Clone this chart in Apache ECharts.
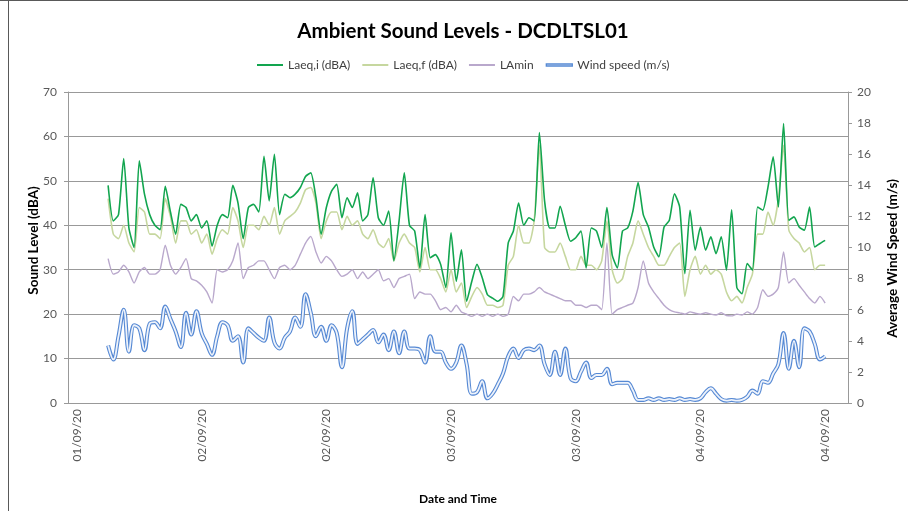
<!DOCTYPE html>
<html>
<head>
<meta charset="utf-8">
<script src="https://cdn.jsdelivr.net/npm/echarts@6/dist/echarts.min.js"></script>
<style>
  html, body { margin: 0; padding: 0; background: #ffffff; }
  #chart { width: 908px; height: 511px; }
</style>
</head>
<body>
<div id="chart"></div>
<script>
// Half-hourly ambient noise and wind readings, monitor DCDLTSL01
const START_HOUR = 21;      // hours after 01/09/20 00:00 of the first reading
const STEP_HOURS = 0.5;

const laeqI = [
  49, 41, 42.4, 55, 39.4, 35, 54.5, 47, 42.4, 40, 39, 48.8, 43, 38, 44.7, 44, 41, 42.4, 39.4, 41,
  35.3, 40, 42.4, 41.7, 49, 45, 37, 44, 44.7, 43, 55.5, 45.5, 56, 42.4, 47,
  46.2, 47, 48.5, 51, 51.8, 46.2, 38, 44, 47.7, 49.2, 41.7, 46.2, 44, 47.3, 41, 42.4, 50.7, 41.7,
  40, 43.2, 32, 41, 51.8, 40, 38.7, 30.4, 42.4, 32.7, 33.4, 31.2, 26, 38.3, 27.4, 34.5,
  22.9, 27.4, 31.2, 28.2, 24.4, 23.6, 22.9, 24, 36, 38.7, 45, 40, 41.7, 41, 60.9, 45.5, 39.4, 39.4,
  44.3, 40, 36.4, 37.2, 38.7, 30.4, 39.4, 38.7, 35, 44, 33.4, 30.4, 38.7, 39.4, 43.2, 49.6, 42.4,
  39.6, 35.1, 32.9, 39.6, 41.1, 47.1, 44.1, 29.1, 43.4, 34.4, 39.6, 34.4, 37.4, 33.6, 37.4, 29.9,
  43.5, 26, 24.6, 31.4, 29.9, 44.1, 43.4, 48.6, 55.4, 44.1, 62.9, 41.1, 41.9, 39.6, 38.9, 44.1,
  35.1, 35.9, 36.6
];

const laeqF = [
  46, 38, 37, 40, 36, 34, 44, 43, 38, 38, 37, 46, 42, 36, 41, 41, 38, 39, 36, 38,
  33.5, 37, 39, 38, 44, 41, 35, 40, 40, 39, 42, 40, 44, 38, 41,
  42, 43, 45, 48, 48.5, 45, 37, 41, 43, 43, 39, 42, 40, 41, 38, 37, 39, 36,
  35, 37, 32, 36, 38, 36, 35, 29.5, 35, 30, 30, 28, 25, 30, 25, 27,
  21.5, 24, 26, 24.5, 22, 22, 21.5, 22, 31, 33, 40, 36, 36, 41, 58, 35, 34, 34,
  36, 33, 30, 30, 33, 31, 31, 30, 32, 41, 30, 27, 28, 33, 36, 41, 38,
  35, 33, 31, 31, 33, 35, 36, 24, 30, 33, 29, 31, 29, 30, 29, 25,
  23, 24, 22.5, 26, 29, 38, 38, 43, 40, 46, 58, 39, 37, 36, 34, 35,
  30, 31, 31
];

const laMin = [
  32.5, 29, 29.5, 31, 29.5, 27, 29.5, 30.5, 29, 29, 30, 35.5, 31, 29, 30.5, 32.5, 28, 27.5, 26.5, 25,
  22.5, 30, 29.5, 30, 32, 36, 28, 30.5, 31, 32, 32, 30, 28, 30.5, 31,
  30, 31, 33.5, 36, 37.5, 34, 31.5, 33, 32, 30, 28.5, 29, 30, 28, 29.5, 28, 29, 30,
  27.5, 28, 26, 28, 28.5, 29, 23.5, 25, 24.5, 24.5, 23, 21, 21.5, 20.5, 22, 20.5,
  20, 19.5, 20, 19.5, 20, 19.5, 20, 19.5, 20, 24, 23, 24.5, 24.5, 25, 26, 25, 24.5, 24,
  23.5, 23, 23, 22, 22, 21.5, 22, 22, 21, 36, 20, 21, 21.5, 22, 22.5, 26, 32,
  27, 25, 23.5, 22, 21, 20.5, 20.3, 20, 20.5, 20.2, 20, 20.3, 20, 19.8, 20.3, 19.7,
  19.6, 20, 19.8, 20.5, 20, 21.5, 25.5, 24, 24.5, 26, 34, 27, 28, 26.5, 25, 23.5,
  22.5, 24, 22.5
];

const windSpeed = [
  3.7, 2.8, 4.3, 6.0, 3.3, 5.0, 4.8, 3.4, 5.1, 5.2, 4.8, 6.2, 5.4, 4.6, 3.6, 5.8, 4.4, 5.9, 4.5, 3.8,
  3.1, 4.3, 5.2, 5.0, 4.0, 4.3, 2.6, 4.8, 4.5, 4.2, 4.0, 5.5, 3.9, 3.5, 4.2,
  4.6, 5.5, 4.9, 7.0, 5.8, 4.3, 4.9, 4.0, 5.0, 4.5, 2.3, 4.8, 5.9, 3.8, 4.1, 4.4, 4.7, 3.9,
  4.4, 3.4, 4.6, 3.2, 4.6, 3.5, 3.5, 3.4, 2.6, 4.3, 3.3, 3.3, 2.6, 2.2, 2.6, 3.7,
  2.5, 0.6, 0.7, 1.4, 0.3, 0.6, 1.2, 1.9, 3.0, 3.5, 2.9, 3.4, 3.5, 3.4, 3.7, 2.5, 1.8, 3.3,
  1.8, 3.5, 1.6, 1.4, 2.0, 2.6, 1.6, 1.8, 1.8, 2.2, 1.2, 1.3, 1.3, 1.3, 0.8, 0.2, 0.2,
  0.3, 0.2, 0.3, 0.2, 0.25, 0.2, 0.3, 0.2, 0.25, 0.2, 0.3, 0.7, 0.95, 0.6, 0.25, 0.15,
  0.2, 0.15, 0.2, 0.4, 0.8, 0.6, 1.4, 1.3, 1.9, 2.5, 4.5, 2.2, 4.0, 2.3, 4.8, 4.6,
  3.8, 2.8, 3.0
];

// Date tick marks (hours after 01/09/20 00:00) and their labels
const tickHours = [18, 30, 42, 54, 66, 78, 90];
const tickLabels = ['01/09/20', '02/09/20', '02/09/20', '03/09/20', '03/09/20', '04/09/20', '04/09/20'];

const FONT = 'Lato, "Open Sans", sans-serif';
const GRID_GREY = '#999999';

const withTime = arr => arr.map((v, i) => [START_HOUR + i * STEP_HOURS, v]);

const chart = echarts.init(document.getElementById('chart'), null, { renderer: 'canvas' });

const option = {
  backgroundColor: '#ffffff',
  animation: false,
  textStyle: { fontFamily: FONT },
  title: {
    text: 'Ambient Sound Levels - DCDLTSL01',
    left: 458,
    textAlign: 'center',
    top: 16,
    textStyle: { fontFamily: FONT, fontWeight: 'bold', fontSize: 20.5, color: '#000000' }
  },
  legend: {
    top: 54,
    left: 252,
    itemGap: 12,
    itemWidth: 26,
    itemHeight: 2,
    textStyle: { fontFamily: FONT, fontSize: 12, color: '#404040' },
    data: [
      { name: 'Laeq,i (dBA)', icon: 'rect', itemStyle: { color: '#12a54f' } },
      { name: 'Laeq,f (dBA)', icon: 'rect', itemStyle: { color: '#c6d79f' } },
      { name: 'LAmin', icon: 'rect', itemStyle: { color: '#b9a8cc' } },
      { name: 'Wind speed (m/s)', icon: 'rect',
        itemStyle: { color: '#eef3fb', borderColor: '#5689d4', borderWidth: 1.3 } }
    ]
  },
  grid: { left: 68, right: 55, top: 92, bottom: 108, containLabel: false },
  xAxis: {
    type: 'value',
    min: 17.14,
    max: 92.2,
    name: 'Date and Time',
    nameLocation: 'middle',
    nameGap: 90,
    nameTextStyle: { fontFamily: FONT, fontWeight: 'bold', fontSize: 12, color: '#000000' },
    axisLine: { show: true, lineStyle: { color: GRID_GREY, width: 1 } },
    axisTick: { show: false },
    splitLine: { show: false },
    axisLabel: {
      customValues: tickHours,
      rotate: 90,
      margin: 6,
      fontFamily: FONT,
      fontSize: 12,
      color: '#595959',
      formatter: v => {
        const k = tickHours.indexOf(v);
        return k >= 0 ? tickLabels[k] : '';
      }
    }
  },
  yAxis: [
    {
      type: 'value',
      min: 0,
      max: 70,
      interval: 10,
      name: 'Sound Level (dBA)',
      nameLocation: 'middle',
      nameRotate: 90,
      nameGap: 27,
      nameMoveOverlap: false,
      nameTextStyle: { fontFamily: FONT, fontWeight: 'bold', fontSize: 13.5, color: '#000000',
        padding: [0, 0, 0, 14] },
      axisLine: { show: true, lineStyle: { color: GRID_GREY } },
      axisTick: { show: true, length: 4, lineStyle: { color: GRID_GREY } },
      splitLine: { show: true, lineStyle: { color: GRID_GREY, width: 1 } },
      axisLabel: { fontFamily: FONT, fontSize: 12, color: '#595959', margin: 11 }
    },
    {
      type: 'value',
      min: 0,
      max: 20,
      interval: 2,
      position: 'right',
      name: 'Average Wind Speed (m/s)',
      nameLocation: 'middle',
      nameRotate: 90,
      nameGap: 38,
      nameTextStyle: { fontFamily: FONT, fontWeight: 'bold', fontSize: 13.5, color: '#000000',
        padding: [0, 22, 0, 0] },
      axisLine: { show: true, lineStyle: { color: GRID_GREY } },
      axisTick: { show: true, length: 4, lineStyle: { color: GRID_GREY } },
      splitLine: { show: false },
      axisLabel: { fontFamily: FONT, fontSize: 12, color: '#595959', margin: 9 }
    }
  ],
  series: [
    {
      name: 'Laeq,f (dBA)',
      type: 'line',
      yAxisIndex: 0,
      showSymbol: false,
      smooth: 0.2,
      data: withTime(laeqF),
      lineStyle: { color: '#c6d79f', width: 1.6 },
      itemStyle: { color: '#c6d79f' },
      z: 2
    },
    {
      name: 'Laeq,i (dBA)',
      type: 'line',
      yAxisIndex: 0,
      showSymbol: false,
      smooth: 0.2,
      data: withTime(laeqI),
      lineStyle: { color: '#12a54f', width: 1.6 },
      itemStyle: { color: '#12a54f' },
      z: 3
    },
    {
      name: 'LAmin',
      type: 'line',
      yAxisIndex: 0,
      showSymbol: false,
      smooth: 0.2,
      data: withTime(laMin),
      lineStyle: { color: '#b9a8cc', width: 1.4 },
      itemStyle: { color: '#b9a8cc' },
      z: 4
    },
    {
      // outer stroke of the double-line wind trace
      name: 'Wind speed (m/s)',
      type: 'line',
      yAxisIndex: 1,
      showSymbol: false,
      smooth: 0.4,
      data: withTime(windSpeed),
      lineStyle: { color: '#5689d4', width: 4 },
      itemStyle: { color: '#5689d4' },
      z: 5
    },
    {
      // inner light stroke of the double-line wind trace
      name: 'wind-inner',
      type: 'line',
      yAxisIndex: 1,
      showSymbol: false,
      smooth: 0.4,
      data: withTime(windSpeed),
      lineStyle: { color: '#eef3fb', width: 1.8 },
      itemStyle: { color: '#eef3fb' },
      z: 6
    }
  ],
  graphic: [
    { type: 'line', shape: { x1: 8.5, y1: 0, x2: 8.5, y2: 511 }, style: { stroke: '#595959', lineWidth: 1 } },
    { type: 'line', shape: { x1: 0, y1: 0.5, x2: 908, y2: 0.5 }, style: { stroke: '#595959', lineWidth: 1 } }
  ]
};

chart.setOption(option);
</script>
</body>
</html>
